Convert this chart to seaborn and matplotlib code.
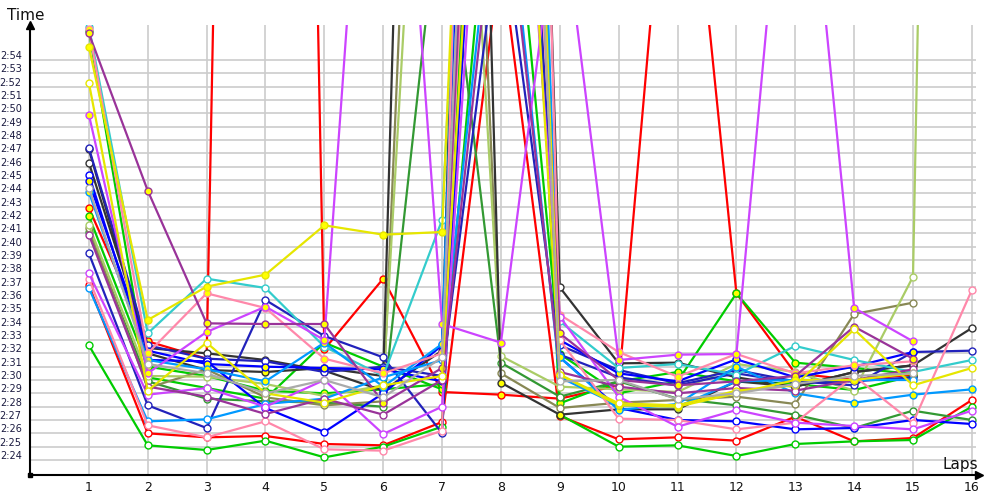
import numpy as np
import pandas as pd
import matplotlib
matplotlib.use("Agg")
import matplotlib.pyplot as plt
from matplotlib.transforms import ScaledTranslation
import seaborn as sns

sns.set_theme(style="white")
plt.rcParams["font.family"] = ["DejaVu Sans"]

nan = float("nan")
laps = list(range(1, 17))

# lap times in seconds (174 = 2:54); large values are pit laps that leave the chart
red_a = [162.9, 152.9, 151.6, 380, 152.3, 157.6, 149.1, 148.9, 148.6, 149.6, 200, 156.5, 150.5, 150.0, 150.4, nan]
red_b = [157.1, 146.0, 145.7, 145.8, 145.2, 145.1, 146.85, 182, 147.3, 145.55, 145.7, 145.45, 147.25, 145.4, 145.65, 148.5]
green_a = [152.6, 145.1, 144.75, 145.45, 144.2, 145.0, 146.5, 240, 147.4, 145.0, 145.1, 144.3, 145.2, 145.4, 145.5, 148.0]
green_b = [176.2, 150.2, 149.4, 148.6, 152.8, 151.0, 149.3, 198, 151.95, 149.0, 149.9, 156.5, 151.3, 150.9, 150.45, nan]
green_c = [162.3, 151.0, 150.3, 149.2, 149.0, 149.3, 149.7, 260, 148.25, 149.9, 150.6, 149.9, 149.7, 149.25, 150.3, nan]
darkgreen_a = [161.1, 149.9, 148.6, 148.4, 148.3, 148.0, 188, 151.3, 148.75, 149.9, 148.6, 148.1, 147.4, 146.4, 147.7, 147.0]
olive_a = [161.4, 149.4, 150.8, 148.7, 148.1, 148.4, 252, 150.5, 147.9, 148.3, 148.5, 148.75, 148.2, 154.95, 155.8, nan]
lightolive_a = [161.6, 150.3, 150.25, 149.7, 148.8, 149.6, 227, 151.8, 149.5, 149.3, 149.1, 151.2, 150.6, 149.2, 157.75, 390]
black_a = [167.3, 152.0, 150.75, 150.6, 150.9, 150.3, 305, 149.8, 147.4, 147.8, 147.8, 149.9, 149.5, 150.6, 151.1, nan]
black_b = [166.3, 152.4, 152.0, 151.5, 150.7, 149.2, 152.2, 300, 156.95, 151.25, 151.3, 150.2, 149.5, 150.6, 151.1, 153.9]
navy_a = [159.5, 148.1, 146.4, 156.0, 153.3, 151.7, 146.0, 230, 152.6, 150.75, 149.75, 150.75, 149.9, 149.6, 152.1, 152.2]
navy_b = [167.4, 152.6, 151.6, 151.4, 150.6, 151.0, 150.3, 185, 151.9, 150.2, 149.6, 150.5, 149.8, 149.9, 150.2, nan]
blue_a = [165.4, 151.5, 151.4, 147.9, 146.1, 149.0, 152.6, 270, 151.7, 147.9, 147.0, 146.9, 146.3, 146.4, 147.0, 146.7]
blue_b = [164.9, 152.2, 151.2, 151.0, 150.9, 150.8, 149.9, 220, 153.0, 150.5, 149.9, 151.55, 150.2, 151.0, 152.1, nan]
cyan_a = [176.5, 153.5, 157.6, 156.9, 152.5, 150.3, 162.0, 250, 154.4, 150.9, 151.2, 150.4, 152.55, 151.5, 150.6, 151.5]
lightblue_a = [164.1, 151.5, 150.8, 149.9, 152.8, 149.5, 152.7, 280, 151.7, 147.75, 148.2, 151.0, 149.0, 148.3, 148.9, 149.3]
lightblue_b = [156.9, 146.9, 147.05, 148.2, 148.6, 150.2, 151.5, 192, 150.2, 148.1, 148.0, 149.9, 150.0, 150.0, 150.0, nan]
pink_a = [157.6, 146.6, 145.7, 146.9, 144.8, 144.7, 146.2, 320, 153.0, 147.1, 147.0, 146.3, 146.8, 150.3, 146.8, 156.75]
pink_b = [176.3, 152.0, 156.5, 155.4, 151.6, 150.5, 152.0, 235, 154.9, 152.1, 150.25, 151.95, 150.5, 151.1, 151.4, nan]
violet_a = [169.9, 150.5, 153.6, 155.5, 153.0, 215, 154.2, 152.8, 187, 151.5, 151.9, 151.95, 200, 155.4, 152.9, nan]
violet_b = [158.0, 148.9, 149.4, 148.0, 150.0, 145.95, 148.0, 215, 154.75, 148.75, 146.5, 147.75, 146.8, 146.55, 146.3, 147.7]
purple_a = [176.0, 164.2, 154.25, 154.2, 154.2, 148.3, 150.9, 245, 153.5, 150.0, 149.6, 149.9, 150.3, 154.0, 151.6, nan]
purple_b = [160.9, 149.5, 148.75, 147.45, 148.6, 147.4, 150.0, 190, 150.6, 149.5, 149.0, 149.4, 149.2, 150.0, 150.8, nan]
yellow_a = [175.0, 154.5, 157.0, 157.9, 161.6, 160.9, 161.1, 265, 150.4, 148.1, 148.0, 149.0, 150.0, 150.0, 150.5, nan]
yellow_b = [172.3, 149.2, 152.8, 149.0, 148.3, 149.6, 150.3, 225, 150.4, 148.25, 148.1, 149.2, 149.6, 153.8, 149.6, 150.9]
gray_a = [164.4, 151.2, 150.5, 149.0, 150.0, 148.7, 151.7, 255, 149.9, 150.0, 148.55, 149.0, 149.7, 150.3, 150.5, nan]

series = {
    "red_a": red_a, "red_b": red_b, "green_a": green_a, "green_b": green_b,
    "green_c": green_c, "darkgreen_a": darkgreen_a, "olive_a": olive_a,
    "lightolive_a": lightolive_a, "black_a": black_a, "black_b": black_b,
    "navy_a": navy_a, "navy_b": navy_b, "blue_a": blue_a, "blue_b": blue_b,
    "cyan_a": cyan_a, "lightblue_a": lightblue_a, "lightblue_b": lightblue_b,
    "pink_a": pink_a, "pink_b": pink_b, "violet_a": violet_a, "violet_b": violet_b,
    "purple_a": purple_a, "purple_b": purple_b, "yellow_a": yellow_a,
    "yellow_b": yellow_b, "gray_a": gray_a,
}
line_colors = {
    "red": "#ff0000", "green": "#00cc00", "darkgreen": "#339933", "olive": "#888855",
    "lightolive": "#aacc66", "black": "#333333", "navy": "#2222bb", "blue": "#0000ff",
    "cyan": "#33cccc", "lightblue": "#0099ff", "pink": "#ff88aa", "violet": "#cc44ff",
    "purple": "#993399", "yellow": "#e6e600", "gray": "#aaaaaa",
}
filled = {"red_a", "green_b", "green_c", "black_a", "blue_b", "lightblue_a",
          "pink_b", "violet_a", "purple_a", "yellow_a"}

rows = []
for name, vals in series.items():
    for lap, v in zip(laps, vals):
        if not np.isnan(v):
            rows.append({"driver": name, "lap": lap, "time": v})
df = pd.DataFrame(rows)

fig = plt.figure(figsize=(10, 5), dpi=100)
ax = fig.add_axes([0.030, 0.05, 0.946, 0.90])

for name in series:
    sub = df[df["driver"] == name]
    col = line_colors[name.rsplit("_", 1)[0]]
    face = "#ffff00" if name in filled else "white"
    sns.lineplot(data=sub, x="lap", y="time", ax=ax, color=col, lw=1.6,
                 marker="o", markersize=5, markerfacecolor=face,
                 markeredgecolor=col, markeredgewidth=1.0,
                 estimator=None, sort=False, legend=False)

yticks = list(range(144, 175))
ytick_labels = [f"2:{s - 120:02d}" for s in yticks]
ax.set_xlim(0, 16.07)
ax.set_ylim(142.875, 176.625)
ax.set_xticks(laps)
ax.set_xticklabels([str(l) for l in laps])
ax.set_yticks(yticks)
ax.set_yticklabels(ytick_labels)
ax.grid(True, color="#cccccc", lw=1.2)
ax.set_axisbelow(True)
ax.set_xlabel("")
ax.set_ylabel("")
for s in ["top", "right"]:
    ax.spines[s].set_visible(False)
for s in ["left", "bottom"]:
    ax.spines[s].set_color("black")
    ax.spines[s].set_linewidth(1.5)
ax.tick_params(axis="y", length=0, pad=6, labelsize=7, labelcolor="#1a1a40")
ax.tick_params(axis="x", length=0, pad=4, labelsize=9, labelcolor="#111111")
off = ScaledTranslation(0, 0.05, fig.dpi_scale_trans)
for lbl in ax.get_yticklabels():
    lbl.set_transform(lbl.get_transform() + off)

ax.plot([0], [1], marker="^", color="black", ms=6, transform=ax.transAxes, clip_on=False)
ax.plot([1.003], [0], marker=">", color="black", ms=6, transform=ax.transAxes, clip_on=False)
ax.plot([0], [0], marker="s", color="black", ms=3, transform=ax.transAxes, clip_on=False)

fig.text(0.007, 0.97, "Time", fontsize=11, va="center", ha="left", color="#111111")
fig.text(0.943, 0.07, "Laps", fontsize=11, va="center", ha="left", color="#111111")

fig.savefig("out.png", dpi=100)
